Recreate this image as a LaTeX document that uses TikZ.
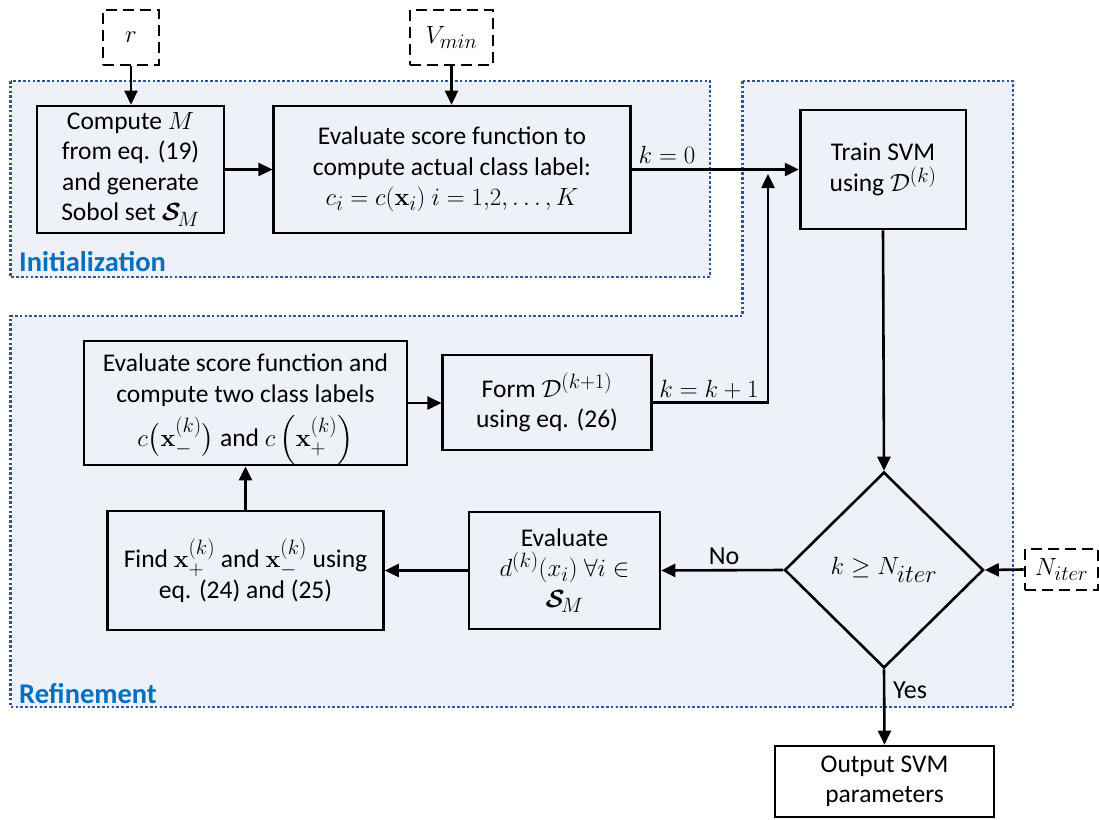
\documentclass[tikz,border=0pt]{standalone}
\usepackage[no-math]{fontspec}
\setmainfont{Carlito}
\usepackage{amsmath,amssymb,bm}
\usetikzlibrary{shapes.geometric,arrows.meta}
\definecolor{regfill}{RGB}{238,242,248}
\definecolor{regline}{RGB}{47,85,151}
\definecolor{labblue}{RGB}{0,112,192}
\newcommand{\mth}[1]{{\fontsize{27.5}{30.5}\selectfont$#1$}}
\newcommand{\SM}{{\boldsymbol{\mathcal{S}}}_{\!M}}
\begin{document}
\begin{tikzpicture}[x=1pt,y=-1pt,
 box/.style={draw=black,line width=2.6pt,align=center,inner sep=0pt,font=\fontsize{25.5}{30.5}\selectfont},
 inbox/.style={draw=black,line width=2.6pt,dash pattern=on 11pt off 6pt,inner sep=0pt,font=\fontsize{31}{32}\selectfont,fill=white},
 region/.style={fill=regfill,draw=regline,line width=2.8pt,dash pattern=on 2.6pt off 2.2pt},
 conn/.style={line width=2.6pt,-{Triangle[length=14pt,width=13pt]}},
 lab/.style={font=\fontsize{26}{28}\selectfont,inner sep=0pt},
 reglab/.style={font=\fontsize{28.5}{30}\selectfont\bfseries,text=labblue,inner sep=0pt,anchor=base west}]
\useasboundingbox (0,0) rectangle (1099,819);
\clip (0,0) rectangle (1099,819);
% regions
\draw[region] (10.5,81) rectangle (710,277);
\draw[region] (742.6,81) -- (1013,81) -- (1013,707) -- (10.5,707) -- (10.5,316) -- (742.6,316) -- cycle;
\node[reglab] (initlab) at (19,271) {Initialization};
\node[reglab] (reflab) at (19,703) {Refinement};
% inputs
\node[inbox,minimum width=56pt,minimum height=55pt] (r) at (131,37.5) {$r$};
\node[inbox,minimum width=83pt,minimum height=55pt] (vmin) at (451.5,37.5) {$V_{min}$};
\node[inbox,minimum width=73pt,minimum height=41pt] (niter) at (1061.5,569.5) {$N_{iter}$};
% boxes
\node[box,minimum width=187pt,minimum height=127pt] (comp) at (130.5,169.5)
 {Compute \mth{M}\\ from eq. (19)\\ and generate\\ Sobol set \mth{\SM}};
\node[box,minimum width=356.5pt,minimum height=127pt] (evala) at (452,169.5)
 {Evaluate score function to\\ compute actual class label:\\ \mth{c_i = c(\mathbf{x}_i)\ i = 1{,}2{,}\ldots,K}};
\node[box,minimum width=165.6pt,minimum height=119pt] (train) at (883,169.5)
 {Train SVM\\ using \mth{\mathcal{D}^{(k)}}};
\node[box,minimum width=323pt,minimum height=110pt] (evalb) at (245.5,403)
 {\rule{0pt}{31pt}Evaluate score function and\\ compute two class labels\\[8pt] \mth{c\big(\mathbf{x}_-^{(k)}\big)} and \mth{c\left(\mathbf{x}_+^{(k)}\right)}};
\node[box,minimum width=208.5pt,minimum height=95pt] (form) at (547,402.5)
 {Form \mth{\mathcal{D}^{(k+1)}}\\ using eq. (26)};
\node[box,minimum width=276pt,minimum height=119pt] (find) at (245.5,570.5)
 {Find \mth{\mathbf{x}_+^{(k)}} and \mth{\mathbf{x}_-^{(k)}} using\\ eq. (24) and (25)};
\node[box,minimum width=191pt,minimum height=117pt] (evald) at (564.5,570.5)
 {Evaluate\\ \mth{d^{(k)}(x_i)\ \forall i \in}\\ \mth{\SM}};
\node[box,diamond,minimum width=199pt,minimum height=196pt,font=\fontsize{33}{34}\selectfont] (dec) at (884,570)
 {$k \geq N_{iter}$};
\node[box,fill=white,minimum width=219pt,minimum height=71pt] (out) at (884.5,781.5)
 {Output SVM\\ parameters};
% labels
\node[lab] (lk0) at (667,155) {$k=0$};
\node[lab] (lk1) at (709,390) {$k=k+1$};
\node[lab] (lno) at (724,556) {No};
\node[lab] (lyes) at (910,690) {Yes};
% connectors
\coordinate (fbcorner) at (768,402.5);
\coordinate (fbend) at (768,174);
\draw[conn] (r.south) -- (comp.north -| r.south);
\draw[conn] (vmin.south) -- (evala.north -| vmin.south);
\draw[conn] (comp.east) -- (evala.west);
\draw[conn] (evala.east) -- (train.west);
\draw[conn] (form.east) -- (fbcorner) -- (fbend);
\draw[conn] (train.south) -- (dec.north);
\draw[conn] (dec.west) -- (evald.east);
\draw[conn] (evald.west) -- (find.east);
\draw[conn] (find.north) -- (evalb.south);
\draw[conn] (evalb.east) -- (form.west |- evalb.east);
\draw[conn] (dec.south) -- (out.north);
\draw[conn] (niter.west) -- (dec.east);
\end{tikzpicture}
\end{document}
